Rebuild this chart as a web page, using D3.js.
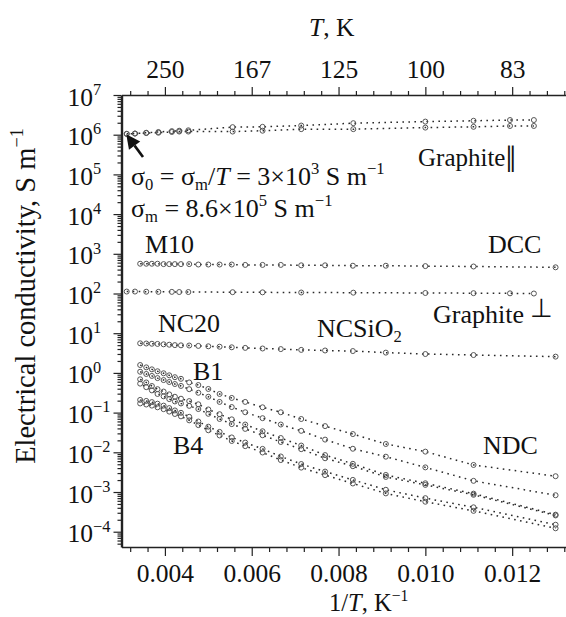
<!DOCTYPE html>
<html><head><meta charset="utf-8">
<script src="https://cdn.jsdelivr.net/npm/d3@7"></script>
<style>
body{margin:0;background:#fff}
text{font-family:"Liberation Serif","Times New Roman",serif;fill:#111}
</style>
</head><body>
<svg id="c" width="566" height="617"></svg>
<script>
// ---------- data ----------
// 1/T grid (K^-1) for the composite samples
const invT_A = [0.00343,0.00357,0.00370,0.00383,0.00397,0.00410,0.00423,0.00437,0.00456,0.00477,0.00500,0.00526,0.00554,0.00585,0.00625,0.00667,0.00714,0.00769,0.00833,0.00909,0.01000,0.01111,0.01300];
// 1/T grid for graphite
const invT_G = [0.00312,0.00331,0.00357,0.00385,0.00416,0.00433,0.00454,0.00556,0.00625,0.00714,0.00834,0.01000,0.01111,0.01195,0.01250];

const graphitePar1 = [1.05e6,1.07e6,1.12e6,1.17e6,1.23e6,1.26e6,1.29e6,1.55e6,1.58e6,1.70e6,1.95e6,2.14e6,2.24e6,2.34e6,2.34e6];
const graphitePar2 = [1.05e6,1.07e6,1.10e6,1.12e6,1.17e6,1.20e6,1.20e6,1.20e6,1.26e6,1.38e6,1.38e6,1.51e6,1.58e6,1.66e6,1.66e6];
const graphitePerp = [112,112,111,110,110,109,109,108,107,106,105,103,102,101,100];

const m10  = [562,562,562,562,550,550,550,550,550,537,537,537,537,525,525,525,513,513,501,501,490,479,457];
const nc20 = [5.56,5.50,5.43,5.37,5.25,5.13,5.01,4.95,4.90,4.79,4.68,4.57,4.42,4.27,4.12,3.98,3.80,3.67,3.55,3.24,2.99,2.82,2.57];
const b1  = [1.58,1.38,1.23,1.10,0.98,0.87,0.78,0.71,0.575,0.495,0.394,0.295,0.234,0.186,0.136,0.102,0.069,0.0457,0.0288,0.0162,0.0104,0.0048,0.0025];
const b2  = [1.07,0.94,0.84,0.74,0.66,0.59,0.525,0.47,0.389,0.316,0.251,0.186,0.138,0.102,0.0724,0.0501,0.0347,0.0209,0.0123,0.00776,0.00417,0.00191,0.00083];
const b3a = [0.69,0.575,0.468,0.389,0.339,0.288,0.251,0.224,0.195,0.162,0.120,0.0912,0.0676,0.0501,0.0339,0.0229,0.0148,0.00851,0.00513,0.00269,0.00166,0.00091,0.000269];
const b3b = [0.537,0.437,0.363,0.295,0.257,0.219,0.191,0.170,0.148,0.123,0.0933,0.0692,0.0513,0.0389,0.0269,0.0182,0.0120,0.00708,0.00447,0.0024,0.00151,0.00085,0.000257];
const b4a = [0.209,0.197,0.184,0.168,0.150,0.130,0.1135,0.0989,0.0785,0.0596,0.0442,0.0327,0.0237,0.0176,0.0122,0.00785,0.00507,0.00327,0.00202,0.00114,0.000700,0.000412,0.000150];
const b4b = [0.170,0.160,0.150,0.136,0.122,0.106,0.0923,0.0804,0.0638,0.0484,0.0359,0.0266,0.0193,0.0143,0.00989,0.00638,0.00412,0.00266,0.00164,0.000923,0.000569,0.000335,0.000122];

const xMajorTicks = [0.004,0.006,0.008,0.010,0.012];
const xMinorTicks = [0.0032,0.0036,0.0044,0.0048,0.0052,0.0056,0.0064,0.0068,0.0072,0.0076,0.0084,0.0088,0.0092,0.0096,0.0104,0.0108,0.0112,0.0116,0.0124,0.0128,0.0132];
const topTickLabels = ["250","167","125","100","83"];
const yExponents = [7,6,5,4,3,2,1,0,-1,-2,-3,-4];

// ---------- layout ----------
const svg = d3.select("#c");
const L = 121.5, R = 566, T = 95, B = 547;
const x = d3.scaleLinear().domain([0.003, 0.01324]).range([L, R]);
const y = d3.scaleLog().domain([4.12e-5, 1e7]).range([B, T]);
const FS = 25.5;

function rich(sel, segs, size){
  let cur = 0;
  segs.forEach(s=>{
    const off = s.sup ? -size*0.42 : (s.sub ? size*0.2 : 0);
    const ts = sel.append("tspan").attr("dy", off-cur).text(s.t);
    if (s.sup || s.sub) ts.attr("font-size", size*0.64);
    if (s.i) ts.attr("font-style","italic");
    if (s.fs) ts.attr("font-size", s.fs);
    if (s.dy) { ts.attr("dy", off-cur+s.dy); cur = off + s.dy; return; }
    cur = off;
  });
}

// ---------- axes ----------
const gB = svg.append("g").attr("transform",`translate(0,${B})`)
  .call(d3.axisBottom(x).tickValues(xMajorTicks).tickSize(9).tickSizeOuter(0).tickFormat(d3.format(".3f")));
gB.selectAll(".tick text").attr("y",35).attr("dy",0).attr("font-size",FS).attr("font-family","Liberation Serif");
gB.select(".domain").attr("stroke-width",1.6);
svg.append("g").attr("transform",`translate(0,${B})`)
  .call(d3.axisBottom(x).tickValues(xMinorTicks).tickSize(5).tickSizeOuter(0).tickFormat(""))
  .select(".domain").remove();

const gT = svg.append("g").attr("transform",`translate(0,${T})`)
  .call(d3.axisTop(x).tickValues(xMajorTicks).tickSize(8).tickSizeOuter(0).tickFormat((d,i)=>topTickLabels[i]));
gT.selectAll(".tick text").attr("y",-17).attr("dy",0).attr("font-size",FS).attr("font-family","Liberation Serif");
gT.select(".domain").attr("stroke-width",1.4);
svg.append("g").attr("transform",`translate(0,${T})`)
  .call(d3.axisTop(x).tickValues(xMinorTicks).tickSize(4).tickSizeOuter(0).tickFormat(""))
  .select(".domain").remove();

const yMajors = yExponents.map(e=>Math.pow(10,e));
const yMinors = [];
for (let e=-5;e<7;e++) for (let m=2;m<10;m++){ const v=m*Math.pow(10,e); if (v>=4.12e-5 && v<=1e7) yMinors.push(v); }
const gL = svg.append("g").attr("transform",`translate(${L},0)`)
  .call(d3.axisLeft(y).tickValues(yMajors).tickSize(8).tickSizeOuter(0).tickFormat(""));
gL.select(".domain").attr("stroke-width",2.4);
svg.append("g").attr("transform",`translate(${L},0)`)
  .call(d3.axisLeft(y).tickValues(yMinors).tickSize(4).tickSizeOuter(0).tickFormat(""))
  .select(".domain").remove();
gL.selectAll(".tick").each(function(d,i){
  const t = d3.select(this).append("text").attr("x",-54).attr("y",10)
     .attr("text-anchor","start").attr("font-size",FS).attr("fill","#111");
  const e = yExponents[i];
  rich(t,[{t:"10"},{t:(e<0?"\u2212":"")+Math.abs(e),sup:true}],FS);
});
svg.selectAll(".domain").attr("stroke","#222");
svg.selectAll(".tick line").attr("stroke","#222").attr("stroke-width",1.2);

// axis titles
const tt = svg.append("text").attr("x",309).attr("y",36).attr("font-size",FS);
rich(tt,[{t:"T",i:true},{t:", K"}],FS);
const bt = svg.append("text").attr("x",329).attr("y",611).attr("font-size",24.5);
rich(bt,[{t:"1/"},{t:"T",i:true},{t:", K"},{t:"\u22121",sup:true}],24.5);
const yt = svg.append("text").attr("transform","translate(35,296) rotate(-90)")
  .attr("text-anchor","middle").attr("font-size",28.5);
rich(yt,[{t:"Electrical conductivity, S m"},{t:"\u22121",sup:true}],28.5);

// ---------- series ----------
const line = d3.line().x(d=>x(d[0])).y(d=>y(d[1]));
function series(xs, ys, dashOffset){
  const pts = xs.map((v,i)=>[v,ys[i]]);
  svg.append("path").datum(pts).attr("d",line).attr("fill","none")
    .attr("stroke","#2a2a2a").attr("stroke-width",1.5)
    .attr("stroke-dasharray","1.6,4.4").attr("stroke-dashoffset",dashOffset||0);
  svg.append("g").selectAll("circle").data(pts).join("circle")
    .attr("cx",d=>x(d[0])).attr("cy",d=>y(d[1])).attr("r",2.5)
    .attr("fill","none").attr("stroke","#555").attr("stroke-width",1);
}
series(invT_G, graphitePar1);
series(invT_G, graphitePar2, 2);
series(invT_G, graphitePerp);
series(invT_A, m10);
series(invT_A, nc20);
series(invT_A, b1);
series(invT_A, b2);
series(invT_A, b3a);
series(invT_A, b3b, 2.8);
series(invT_A, b4a);
series(invT_A, b4b, 2.8);

// ---------- annotations ----------
const LS = 26;
function label(px,py,segs,size){ const s=size||LS; const t=svg.append("text").attr("x",px).attr("y",py).attr("font-size",s); rich(t,segs,s); return t; }
label(418,166,[{t:"Graphite"},{t:"\u2016",fs:38,dy:6}],25);
label(131,185,[{t:"\u03c3"},{t:"0",sub:true},{t:" = \u03c3"},{t:"m",sub:true},{t:"/"},{t:"T",i:true},{t:" = 3\u00d710"},{t:"3",sup:true},{t:" S m"},{t:"\u22121",sup:true}],26);
label(131,217,[{t:"\u03c3"},{t:"m",sub:true},{t:" = 8.6\u00d710"},{t:"5",sup:true},{t:" S m"},{t:"\u22121",sup:true}],26);
label(145,253,[{t:"M10"}]);
label(488,253,[{t:"DCC"}]);
label(433,323,[{t:"Graphite "},{t:"\u22a5",dy:-6}]);
label(158,332,[{t:"NC20"}]);
label(317,337,[{t:"NCSiO"},{t:"2",sub:true}]);
label(193,380,[{t:"B1"}]);
label(173,454,[{t:"B4"}]);
label(483,454,[{t:"NDC"}]);

// arrow pointing to sigma_0
const tip = [x(0.00311), y(1.02e6)];
const tail = [143, 157];
const ang = Math.atan2(tip[1]-tail[1], tip[0]-tail[0]);
const hl = 14, hw = 7;
const base = [tip[0]-hl*Math.cos(ang), tip[1]-hl*Math.sin(ang)];
svg.append("line").attr("x1",tail[0]).attr("y1",tail[1]).attr("x2",base[0]).attr("y2",base[1])
  .attr("stroke","#111").attr("stroke-width",2.6);
svg.append("path").attr("d",`M${tip[0]},${tip[1]}L${base[0]+hw*Math.sin(ang)},${base[1]-hw*Math.cos(ang)}L${base[0]-hw*Math.sin(ang)},${base[1]+hw*Math.cos(ang)}Z`)
  .attr("fill","#111");
</script>
</body></html>
